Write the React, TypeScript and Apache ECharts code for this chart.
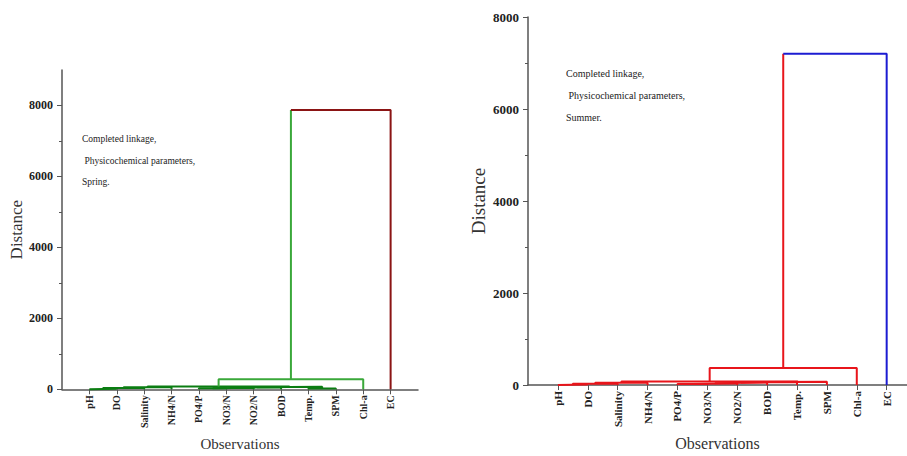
import React, { useEffect, useRef } from "react";
import * as echarts from "echarts";

// ---------------- data ----------------
const LEAVES = ["pH", "DO", "Salinity", "NH4/N", "PO4/P", "NO3/N", "NO2/N", "BOD", "Temp.", "SPM", "Chl-a", "EC"];

// merges: [childA, childB, distance]; children < 12 are leaves, >= 12 are earlier merges
const SPRING_MERGES: [number, number, number][] = [
  [0, 1, 15],
  [12, 2, 35],
  [13, 3, 55],
  [4, 5, 30],
  [15, 6, 45],
  [16, 7, 60],
  [8, 9, 20],
  [17, 18, 70],
  [14, 19, 80],
  [20, 10, 283],
  [21, 11, 7870],
];

const SUMMER_MERGES: [number, number, number][] = [
  [0, 1, 12],
  [12, 2, 30],
  [13, 3, 50],
  [4, 5, 25],
  [15, 6, 40],
  [16, 7, 55],
  [17, 8, 65],
  [18, 9, 70],
  [14, 19, 75],
  [20, 10, 370],
  [21, 11, 7200],
];

const Y_LABELS = [0, 2000, 4000, 6000, 8000];
const LEAF_POS = LEAVES.map((_, i) => i + 1);

const SPRING_NOTE = ["Completed linkage,", " Physicochemical parameters,", "Spring."];
const SUMMER_NOTE = ["Completed linkage,", " Physicochemical parameters,", "Summer."];

// ---------------- helpers ----------------
type Link = { xa: number; xb: number; ha: number; hb: number; h: number };

function buildLinks(merges: [number, number, number][]): Link[] {
  const pos: number[] = LEAF_POS.slice();
  const hgt: number[] = LEAVES.map(() => 0);
  const links: Link[] = [];
  merges.forEach(([a, b, h]) => {
    const xa = pos[a];
    const xb = pos[b];
    links.push({ xa, xb, ha: hgt[a], hb: hgt[b], h });
    pos.push((xa + xb) / 2);
    hgt.push(h);
  });
  return links;
}

function lineSeries(data: number[][], color: string, idx: number, width = 2): any {
  return {
    type: "line",
    xAxisIndex: idx,
    yAxisIndex: idx,
    data,
    showSymbol: false,
    symbol: "none",
    clip: false,
    silent: true,
    lineStyle: { color, width },
    z: 3,
  };
}

function dendroSeries(
  links: Link[],
  idx: number,
  colorFor: (l: Link) => string,
  lastLeftColor: string,
  lastOtherColor: string
): any[] {
  const out: any[] = [];
  links.forEach((l, i) => {
    if (i === links.length - 1) {
      out.push(lineSeries([[l.xa, l.ha], [l.xa, l.h]], lastLeftColor, idx));
      out.push(lineSeries([[l.xa, l.h], [l.xb, l.h], [l.xb, l.hb]], lastOtherColor, idx));
    } else {
      out.push(lineSeries([[l.xa, l.ha], [l.xa, l.h], [l.xb, l.h], [l.xb, l.hb]], colorFor(l), idx));
    }
  });
  return out;
}

const SERIF = "'Liberation Serif', 'DejaVu Serif', serif";
const AXIS_COLOR = "#555";

function xAxisOpt(idx: number, max: number, labelSize: number, nameSize: number, nameGap: number): any {
  return {
    type: "value",
    gridIndex: idx,
    min: 0,
    max,
    interval: 1,
    axisLine: { show: true, onZero: false, lineStyle: { color: AXIS_COLOR, width: 1.5 } },
    axisTick: { show: true, customValues: LEAF_POS, length: 5, lineStyle: { color: AXIS_COLOR, width: 1 } },
    axisLabel: {
      customValues: LEAF_POS,
      rotate: 90,
      margin: 6,
      formatter: (v: number) => LEAVES[Math.round(v) - 1] ?? "",
      fontFamily: SERIF,
      fontWeight: "bold",
      fontSize: labelSize,
      color: "#222",
    },
    splitLine: { show: false },
    name: "Observations",
    nameLocation: "middle",
    nameGap,
    nameTextStyle: { fontFamily: SERIF, fontSize: nameSize, color: "#333" },
  };
}

function yAxisOpt(idx: number, max: number, labelSize: number, nameSize: number, nameGap: number): any {
  return {
    type: "value",
    gridIndex: idx,
    min: 0,
    max,
    interval: 2000,
    axisLine: { show: true, lineStyle: { color: AXIS_COLOR, width: 1.5 } },
    axisTick: { show: true, customValues: Y_LABELS, length: 5, lineStyle: { color: AXIS_COLOR, width: 1 } },
    minorTick: { show: true, splitNumber: 2, length: 3, lineStyle: { color: AXIS_COLOR, width: 1 } },
    axisLabel: {
      customValues: Y_LABELS,
      margin: 9,
      formatter: (v: number) => String(Math.round(v)),
      fontFamily: SERIF,
      fontWeight: "bold",
      fontSize: labelSize,
      color: "#222",
    },
    splitLine: { show: false },
    minorSplitLine: { show: false },
    name: "Distance",
    nameLocation: "middle",
    nameGap,
    nameTextStyle: { fontFamily: SERIF, fontSize: nameSize, color: "#333" },
  };
}

function noteTexts(lines: string[], x: number, y0: number, dy: number, size: number): any[] {
  return lines.map((t, i) => ({
    type: "text",
    x,
    y: y0 + i * dy,
    silent: true,
    style: { text: t, font: `${size}px ${SERIF}`, fill: "#222", verticalAlign: "middle", align: "left" },
  }));
}

export default function App() {
  const ref = useRef<HTMLDivElement>(null);

  useEffect(() => {
    document.body.style.margin = "0";
    if (!ref.current) return;
    const chart = echarts.init(ref.current, undefined, { renderer: "svg" });

    const springLinks = buildLinks(SPRING_MERGES);
    const summerLinks = buildLinks(SUMMER_MERGES);

    const series = [
      ...dendroSeries(
        springLinks,
        0,
        (l) => (l.h < 150 ? "#0b7d12" : "#3aa83a"),
        "#3aa83a",
        "#8b1414"
      ),
      ...dendroSeries(summerLinks, 1, () => "#e8151b", "#e8151b", "#1c1cd2"),
    ];

    chart.setOption({
      animation: false,
      backgroundColor: "#ffffff",
      grid: [
        { left: 62, top: 70, width: 356, height: 327, containLabel: false },
        { left: 528, top: 17, width: 379, height: 370, containLabel: false },
      ],
      xAxis: [xAxisOpt(0, 13, 10, 15, 41), xAxisOpt(1, 12.68, 11, 16, 46)],
      yAxis: [yAxisOpt(0, 9000, 12, 17, 34), yAxisOpt(1, 8000, 13, 19, 40)],
      series,
      graphic: [...noteTexts(SPRING_NOTE, 82, 139, 21.5, 9.5), ...noteTexts(SUMMER_NOTE, 566, 73, 22, 10)],
    });

    return () => chart.dispose();
  }, []);

  return <div ref={ref} style={{ width: 907, height: 456 }} />;
}
